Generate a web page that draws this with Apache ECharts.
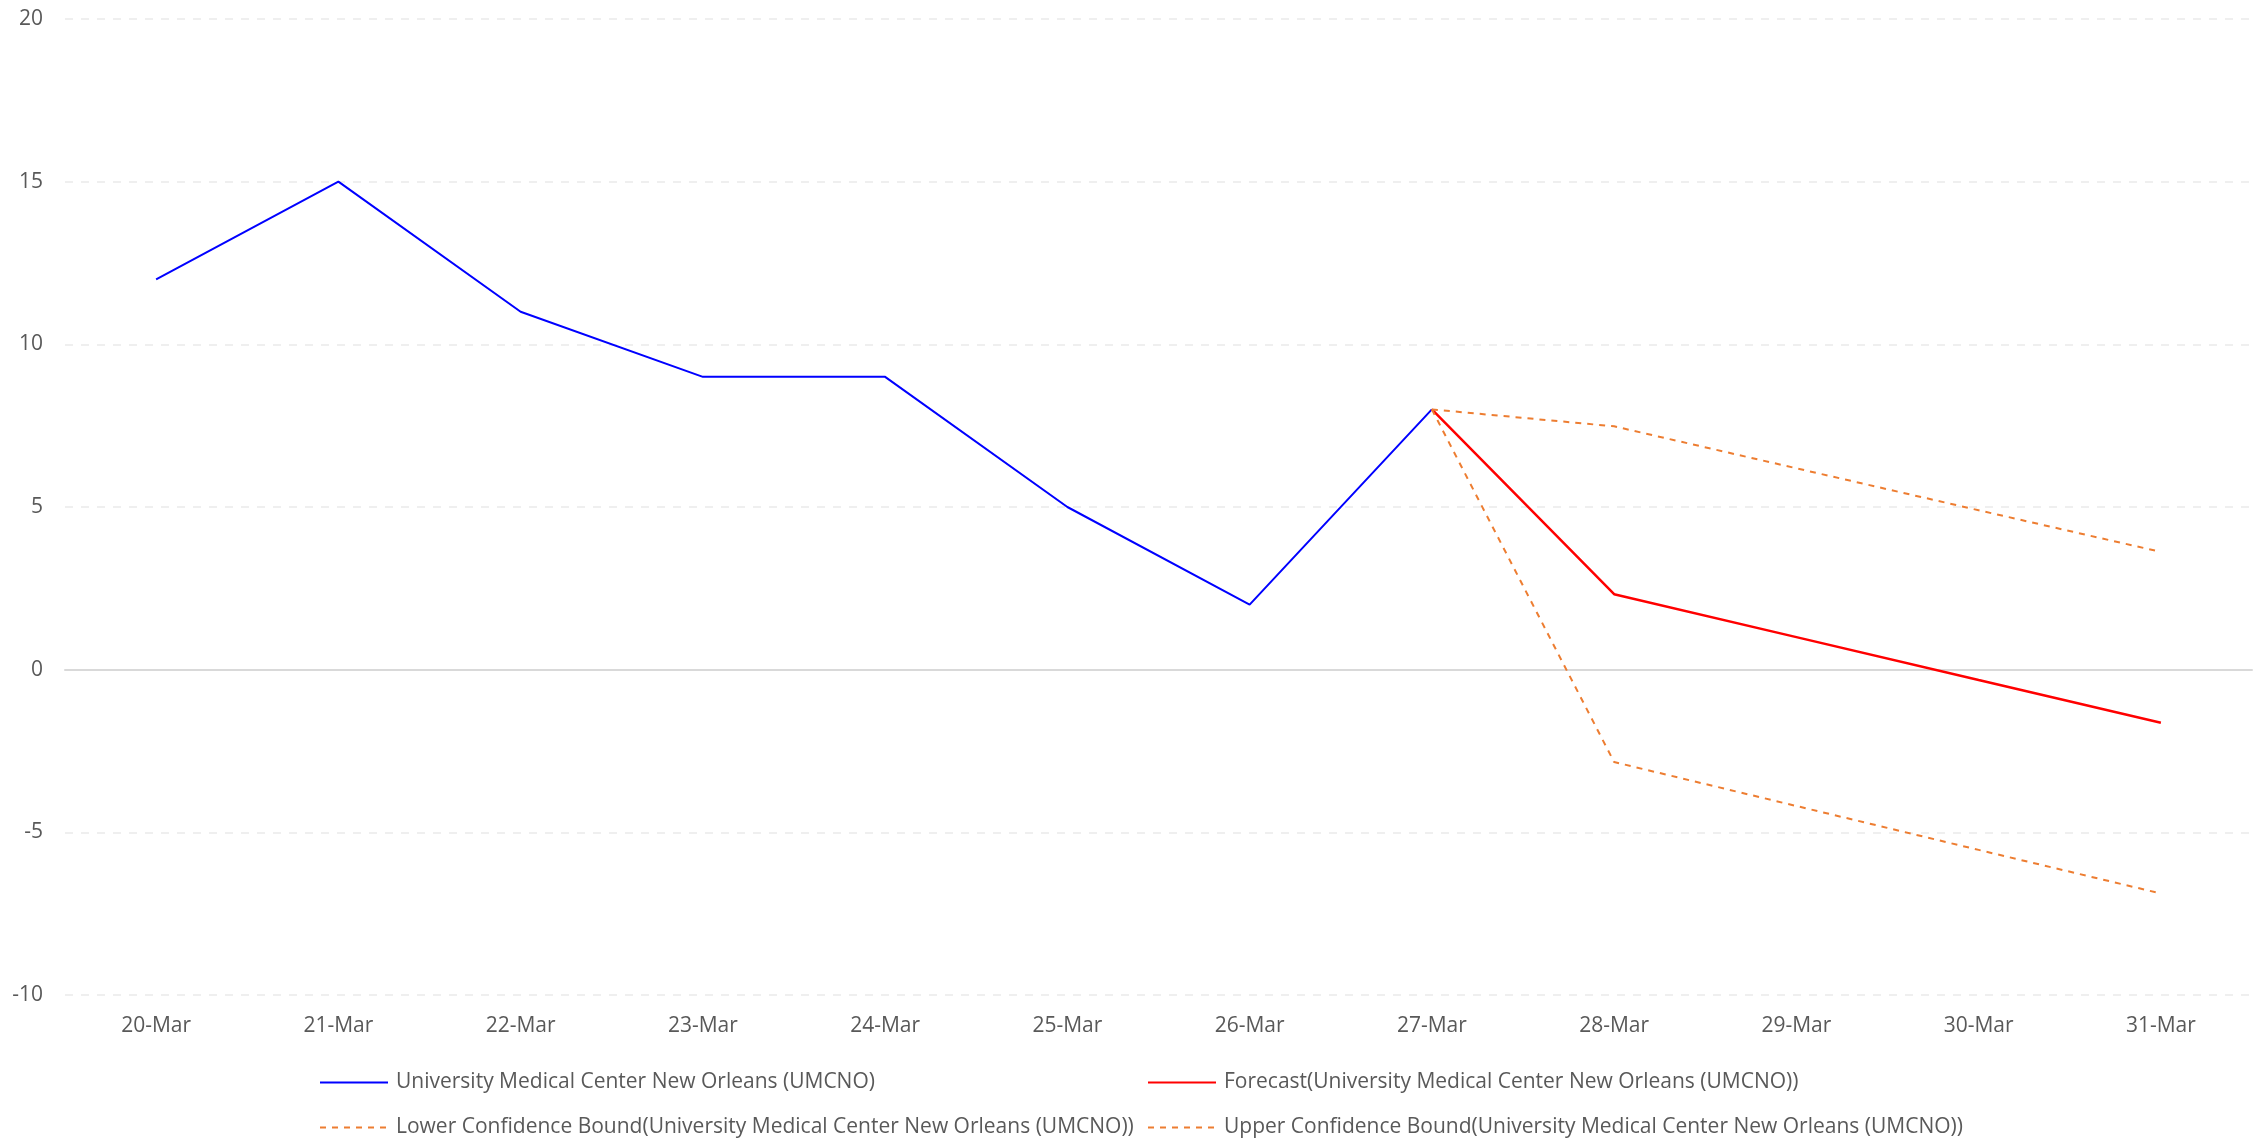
<!DOCTYPE html>
<html><head><meta charset="utf-8">
<script src="https://cdn.jsdelivr.net/npm/echarts@6/dist/echarts.min.js"></script>
<style>html,body{margin:0;padding:0;background:#fff}#c{width:2260px;height:1140px}</style>
</head><body><div id="c"></div>
<script>
const categories = ['20-Mar','21-Mar','22-Mar','23-Mar','24-Mar','25-Mar','26-Mar','27-Mar','28-Mar','29-Mar','30-Mar','31-Mar'];
const actual = [12, 15, 11, 9, 9, 5, 2, 8, null, null, null, null];
const forecast = [null, null, null, null, null, null, null, 8, 2.32, 1.0, -0.32, -1.63];
const lowerBound = [null, null, null, null, null, null, null, 8, -2.84, -4.19, -5.54, -6.88];
const upperBound = [null, null, null, null, null, null, null, 8, 7.48, 6.19, 4.90, 3.62];
const names = [
  'University Medical Center New Orleans (UMCNO)',
  'Forecast(University Medical Center New Orleans (UMCNO))',
  'Lower Confidence Bound(University Medical Center New Orleans (UMCNO))',
  'Upper Confidence Bound(University Medical Center New Orleans (UMCNO))'
];
const FONT = 'Open Sans';
const chart = echarts.init(document.getElementById('c'));
const legendText = {color:'#595959', fontSize:21, fontFamily:FONT, padding:[0,0,0,3]};
const legendCommon = {orient:'vertical', top:1072, height:68, padding:0, itemGap:24, itemWidth:68, itemHeight:14, textStyle:legendText, itemStyle:{opacity:0}};
chart.setOption({
  animation:false,
  backgroundColor:'#fff',
  grid:{left:65, right:8, top:19, bottom:145, containLabel:false},
  legend:[
    Object.assign({data:[names[0], names[2]], left:319}, legendCommon),
    Object.assign({data:[names[1], names[3]], left:1147}, legendCommon)
  ],
  xAxis:{
    type:'category', data:categories, boundaryGap:true,
    axisLine:{onZero:true, lineStyle:{color:'#d9d9d9', width:2}},
    axisTick:{show:false},
    axisLabel:{color:'#595959', fontSize:21, fontFamily:FONT, margin:21}
  },
  yAxis:{
    type:'value', min:-10, max:20, interval:5,
    axisLine:{show:false}, axisTick:{show:false},
    axisLabel:{color:'#595959', fontSize:21, fontFamily:FONT, margin:22},
    splitLine:{lineStyle:{color:'#eaeaea', type:[8,8], width:1.5}}
  },
  series:[
    {name:names[0], type:'line', data:actual, symbol:'none', lineStyle:{color:'#0000ff', width:2}, itemStyle:{color:'#0000ff'}},
    {name:names[1], type:'line', data:forecast, symbol:'none', lineStyle:{color:'#ff0000', width:2.5}, itemStyle:{color:'#ff0000'}},
    {name:names[2], type:'line', data:lowerBound, symbol:'none', lineStyle:{color:'#ED7D31', width:2, type:[6,6]}, itemStyle:{color:'#ED7D31'}},
    {name:names[3], type:'line', data:upperBound, symbol:'none', lineStyle:{color:'#ED7D31', width:2, type:[6,6]}, itemStyle:{color:'#ED7D31'}}
  ]
});
</script></body></html>
